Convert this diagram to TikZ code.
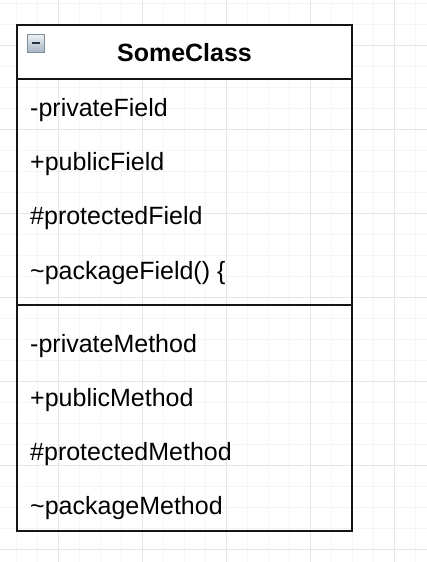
\documentclass[tikz,border=0pt]{standalone}
\usepackage{fontspec}
\setmainfont{Liberation Sans}
\definecolor{gridminor}{HTML}{F5F5F5}
\definecolor{gridmajor}{HTML}{E6E6E6}
\definecolor{edge}{HTML}{141414}
\definecolor{icontop}{HTML}{EEF2F6}
\definecolor{iconbot}{HTML}{A9B6C3}
\definecolor{iconedge}{HTML}{7F8E9C}
\definecolor{icondash}{HTML}{2A3440}
\tikzset{
  member/.style={anchor=base west, inner sep=0pt, font=\fontsize{25}{30}\selectfont},
  titletext/.style={anchor=base, inner sep=0pt, font=\fontsize{25}{30}\selectfont\bfseries},
  boxline/.style={draw=edge, line width=2pt},
}
\begin{document}
\begin{tikzpicture}[x=1pt, y=-1pt]
\useasboundingbox (0,0) rectangle (427,562);
\fill[white] (0,0) rectangle (427,562);
% grid
\foreach \k in {-3,...,17} {
  \pgfmathsetmacro{\gx}{58+21*\k}
  \draw[gridminor, line width=1pt] (\gx,0) -- (\gx,562);
}
\foreach \k in {-2,...,25} {
  \pgfmathsetmacro{\gy}{45+21*\k}
  \draw[gridminor, line width=1pt] (0,\gy) -- (427,\gy);
}
\foreach \k in {0,...,4} {
  \pgfmathsetmacro{\gx}{58+84*\k}
  \draw[gridmajor, line width=1pt] (\gx,0) -- (\gx,562);
}
\foreach \k in {0,...,6} {
  \pgfmathsetmacro{\gy}{45+84*\k}
  \draw[gridmajor, line width=1pt] (0,\gy) -- (427,\gy);
}
% class box
\coordinate (tl) at (17,25);
\coordinate (br) at (352,531);
\coordinate (hl) at (17,79);
\coordinate (hr) at (352,79);
\coordinate (sl) at (17,305);
\coordinate (sr) at (352,305);
\fill[white] (tl) rectangle (hr);
\draw[boxline] (tl) rectangle (br);
\draw[boxline] (hl) -- (hr);
\draw[boxline] (sl) -- (sr);
% collapse icon
\shade[top color=icontop, bottom color=iconbot, draw=iconedge, line width=1pt] (27.5,34) rectangle (44.5,52) ;
\node[inner sep=0pt] (icon) at (36,43) {};
\draw[icondash, line width=2.2pt] (32,43) -- (40,43);
% title
\node[titletext] (title) at (184.5,61) {SomeClass};
% fields
\node[member] (f1) at (30,116.5) {-privateField};
\node[member] (f2) at (30,170.5) {+publicField};
\node[member] (f3) at (30,224.5) {\#protectedField};
\node[member] (f4) at (30,279) {\textasciitilde packageField() \{};
% methods
\node[member] (m1) at (30,352) {-privateMethod};
\node[member] (m2) at (30,406) {+publicMethod};
\node[member] (m3) at (30,460) {\#protectedMethod};
\node[member] (m4) at (30,514.5) {\textasciitilde packageMethod};
\end{tikzpicture}
\end{document}
